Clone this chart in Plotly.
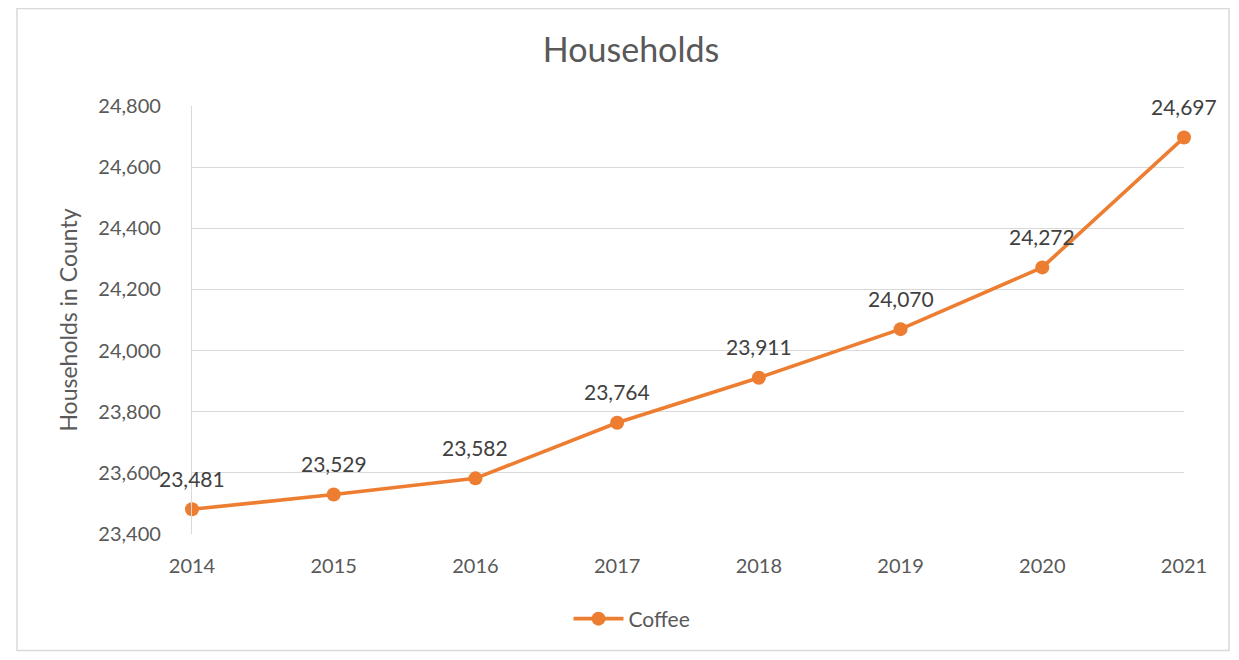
import plotly.graph_objects as go

years = ["2014", "2015", "2016", "2017", "2018", "2019", "2020", "2021"]
households = [23481, 23529, 23582, 23764, 23911, 24070, 24272, 24697]
series_name = "Coffee"
y_ticks = [23400, 23600, 23800, 24000, 24200, 24400, 24600, 24800]

# page body has an 8px margin, so figure coordinates = screen coordinates - 8
OFF = 8
W, H = 1239 - 2 * OFF, 660 - 2 * OFF
L, R, T, B = 192 - OFF, 1184 - OFF, 106 - OFF, 534 - OFF
orange = "#ED7D31"
font_family = "Lato, 'Open Sans', sans-serif"

fig = go.Figure()
fig.add_trace(go.Scatter(
    x=list(range(len(years))), y=households, name=series_name,
    mode="lines+markers",
    line=dict(color=orange, width=3.6),
    marker=dict(color=orange, size=14),
    cliponaxis=False,
))
for i, v in enumerate(households):
    fig.add_annotation(x=i, y=v, text=f"{v:,}", showarrow=False,
                       yshift=31, xanchor="center", yanchor="middle",
                       font=dict(color="#404040", size=21, family=font_family))

pw, ph = R - L, B - T
def px(x):
    return (x - OFF - L) / pw
def py(y):
    return (B - (y - OFF)) / ph

fig.update_layout(
    width=W, height=H,
    margin=dict(l=L, r=W - R, t=T, b=H - B),
    paper_bgcolor="white", plot_bgcolor="white",
    font=dict(family=font_family, color="#595959"),
    title=dict(text="Households", x=px(631), xref="paper", xanchor="center",
               y=1 - (50 - OFF) / H, yanchor="middle",
               font=dict(size=34, color="#595959", family=font_family)),
    showlegend=True,
    legend=dict(orientation="h", x=px(632), xanchor="center", y=py(619), yanchor="middle",
                font=dict(size=21, color="#595959", family=font_family),
                itemwidth=50),
    xaxis=dict(
        range=[0, len(years) - 1],
        tickmode="array", tickvals=list(range(len(years))), ticktext=years,
        showgrid=False, zeroline=False, showline=False,
        ticks="", ticklabelstandoff=18,
        tickfont=dict(size=20, color="#595959", family=font_family),
    ),
    yaxis=dict(
        range=[23400, 24800], tickmode="array", tickvals=y_ticks,
        tickformat=",d",
        showgrid=True, gridcolor="#D9D9D9", gridwidth=1.3,
        zeroline=False, showline=True, linecolor="#D9D9D9", linewidth=1.3,
        ticks="", ticklabelstandoff=26,
        tickfont=dict(size=20, color="#595959", family=font_family),
        title=dict(text="Households in County", standoff=14,
                   font=dict(size=23, color="#595959", family=font_family)),
    ),
    shapes=[dict(type="rect", xref="paper", yref="paper",
                 x0=px(17), x1=px(1229), y0=py(650.5), y1=py(8.5),
                 line=dict(color="#D9D9D9", width=1.5), layer="below")],
)

fig.write_html("out.html")
